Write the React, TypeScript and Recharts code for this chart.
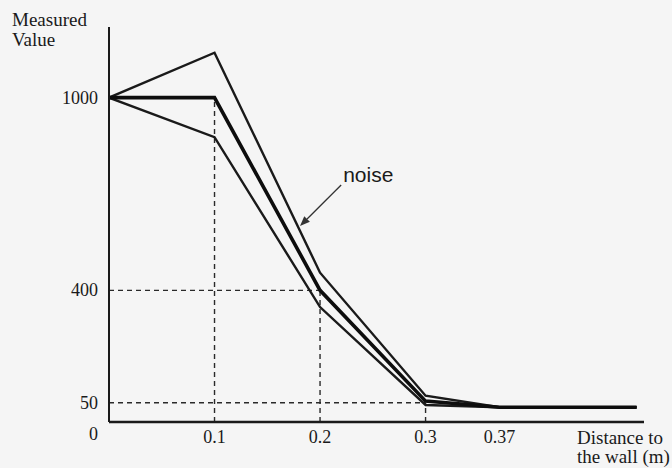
import React from 'react';
import { LineChart, Line, XAxis, YAxis, ReferenceLine } from 'recharts';

// distance to the wall (m)
const distances = [0, 0.1, 0.2, 0.3, 0.37, 0.5];
// measured value, upper noise bound / nominal / lower noise bound
const upperValues = [1000, 1140, 455, 72, 36, 36];
const middleValues = [1000, 1000, 400, 55, 36, 36];
const lowerValues = [1000, 877, 348, 43, 36, 36];

const xTicks = [0.1, 0.2, 0.3, 0.37];
const yTicks = [0, 50, 400, 1000];

// dashed guide points (distance, value)
const guideX = [0.1, 0.2, 0.3];
const guideY = [1000, 400, 50];

// "noise" arrow: start and tip in data space
const noiseArrowX = [0.22, 0.181];
const noiseArrowY = [728, 600];

const X_DOMAIN: [number, number] = [0, 0.507];
const Y_DOMAIN: [number, number] = [-10, 1220];

const data = distances.map((x, i) => ({
  x,
  upper: upperValues[i],
  middle: middleValues[i],
  lower: lowerValues[i],
}));

const SERIF = '"Liberation Serif", "Times New Roman", serif';
const SANS = '"Liberation Sans", Arial, sans-serif';
const INK = '#1a1a1a';

const XTick = (props: any) => {
  const { x, y, payload } = props;
  return (
    <text x={x} y={y} dy={13} textAnchor="middle" fontFamily={SERIF} fontSize={18} fill={INK}>
      {String(payload.value)}
    </text>
  );
};

const YTick = (props: any) => {
  const { x, y, payload } = props;
  const extra = payload.value === 0 ? 15 : 0;
  return (
    <text x={x} y={y + extra} dx={-3} dy={6} textAnchor="end" fontFamily={SERIF} fontSize={18} fill={INK}>
      {String(payload.value)}
    </text>
  );
};

const YTitle = () => (
  <text fontFamily={SERIF} fontSize={19} fill={INK}>
    <tspan x={12} y={26}>Measured</tspan>
    <tspan x={12} y={46}>Value</tspan>
  </text>
);

const XTitle = () => (
  <text fontFamily={SERIF} fontSize={19} fill={INK}>
    <tspan x={577} y={444}>Distance to</tspan>
    <tspan x={577} y={463}>the wall (m)</tspan>
  </text>
);

const NoiseArrow = (p: any) => {
  const { x1, y1, x2, y2 } = p;
  const ang = Math.atan2(y2 - y1, x2 - x1);
  const len = 10;
  const w = 4;
  const bx = x2 - len * Math.cos(ang);
  const by = y2 - len * Math.sin(ang);
  const px = -Math.sin(ang) * w;
  const py = Math.cos(ang) * w;
  return (
    <g>
      <line x1={x1} y1={y1} x2={bx} y2={by} stroke="#333" strokeWidth={1.3} />
      <polygon points={`${x2},${y2} ${bx + px},${by + py} ${bx - px},${by - py}`} fill="#333" />
      <text x={x1 + 2} y={y1 - 3} fontFamily={SANS} fontSize={21} fill={INK}>
        noise
      </text>
    </g>
  );
};

export default function App() {
  return (
    <div
      style={{
        position: 'absolute',
        left: 0,
        top: 0,
        width: 672,
        height: 468,
        background: '#f5f5f5',
      }}
    >
      <LineChart
        width={672}
        height={468}
        data={data}
        margin={{ top: 27, right: 28, bottom: 0, left: 0 }}
      >
        <XAxis
          dataKey="x"
          type="number"
          domain={X_DOMAIN}
          ticks={xTicks}
          interval={0}
          allowDataOverflow
          height={46}
          tickLine={false}
          tick={<XTick />}
          axisLine={{ stroke: INK, strokeWidth: 2.5 }}
          label={<XTitle />}
        />
        <YAxis
          type="number"
          domain={Y_DOMAIN}
          ticks={yTicks}
          interval={0}
          allowDataOverflow
          width={109}
          tickLine={false}
          tick={<YTick />}
          axisLine={{ stroke: INK, strokeWidth: 2 }}
          label={<YTitle />}
        />
        {guideX.map((gx, i) =>
          i > 0 ? (
            <ReferenceLine
              key={'h' + i}
              segment={[
                { x: X_DOMAIN[0], y: guideY[i] },
                { x: gx, y: guideY[i] },
              ]}
              stroke="#2a2a2a"
              strokeWidth={1.4}
              strokeDasharray="5 4"
            />
          ) : null
        )}
        {guideX.map((gx, i) => (
          <ReferenceLine
            key={'v' + i}
            segment={[
              { x: gx, y: Y_DOMAIN[0] },
              { x: gx, y: guideY[i] },
            ]}
            stroke="#2a2a2a"
            strokeWidth={1.4}
            strokeDasharray="5 4"
          />
        ))}
        <Line type="linear" dataKey="upper" stroke={INK} strokeWidth={2.4} dot={false} isAnimationActive={false} />
        <Line type="linear" dataKey="lower" stroke={INK} strokeWidth={2.4} dot={false} isAnimationActive={false} />
        <Line type="linear" dataKey="middle" stroke="#0d0d0d" strokeWidth={3.6} dot={false} isAnimationActive={false} />
        <ReferenceLine
          segment={[
            { x: noiseArrowX[0], y: noiseArrowY[0] },
            { x: noiseArrowX[1], y: noiseArrowY[1] },
          ]}
          shape={NoiseArrow}
        />
      </LineChart>
    </div>
  );
}
